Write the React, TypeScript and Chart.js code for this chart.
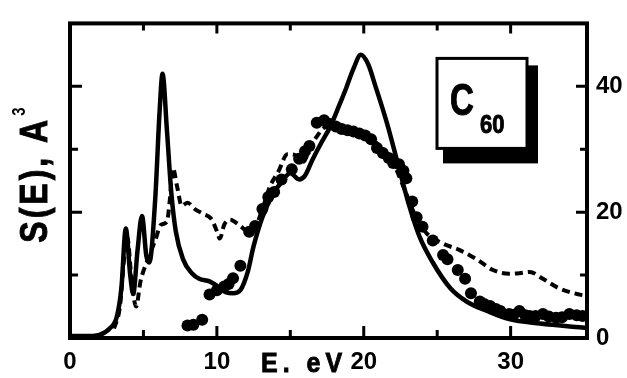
import React, { useEffect, useRef } from "react";
import { Chart, registerables } from "chart.js";

Chart.register(...registerables);

// ---- data (E in eV, S(E) in A^3) ----
const solidE = [0, 1, 2, 2.7, 3.2, 3.5, 3.8, 4.1, 4.3, 4.6, 4.9, 5.2, 5.4, 5.8, 6.1, 6.3, 6.6, 6.9, 7.2, 7.7, 8.3, 8.8, 9.5, 10.0, 10.6, 11.1, 11.6, 12.1, 12.5, 13.1, 13.8, 14.4, 15.0, 15.6, 16.0, 16.5, 17.1, 17.7, 18.3, 18.8, 19.3, 19.8, 20.3, 20.8, 21.6, 22.4, 23.1, 23.8, 24.7, 25.9, 27.0, 28.4, 29.9, 32.0, 34.7, 35.2];
const solidS = [0.3, 0.3, 0.5, 1.5, 3.5, 8, 17.4, 10, 7, 14, 19.4, 13, 12, 22, 36, 42, 33, 23, 17, 12.5, 10.3, 9.4, 9, 8.3, 7.3, 7.1, 7.6, 10.5, 14.6, 19.2, 22.8, 24.8, 26.2, 25.2, 25.8, 28.3, 31, 33.5, 36.8, 39.7, 42.8, 45, 43.5, 40, 34, 27, 21, 16.1, 12, 7.9, 5.8, 4.3, 3.0, 2.3, 1.7, 1.6];

const dashE = [3.0, 3.4, 3.7, 3.9, 4.2, 4.5, 4.8, 5.3, 5.8, 6.2, 6.6, 6.8, 7.0, 7.3, 7.6, 8.0, 8.5, 9.1, 9.6, 10.0, 10.2, 10.5, 10.9, 11.6, 12.2, 12.6, 13.1, 13.6, 14.2, 14.8, 15.4, 15.9, 16.3, 16.8, 17.4, 18.2, 19.2, 20.2, 21.1, 22.0, 22.8, 23.5, 24.3, 25.4, 26.5, 27.7, 28.8, 29.9, 30.6, 31.3, 32.2, 33.3, 34.7, 35.2];
const dashS = [1.5, 5, 13, 16, 9, 5, 9, 12.5, 15.5, 18, 18.5, 22, 27, 24, 21, 21.5, 20.5, 19.7, 19, 17, 15.8, 18, 18.8, 17.8, 16.8, 17.5, 20.5, 24, 26.5, 29.2, 29, 28, 30, 32, 33.5, 33, 32.5, 32, 30.5, 27.8, 23.5, 19.5, 16.6, 15, 14, 12.5, 10.8, 10.2, 10.3, 10.5, 9.4, 7.9, 6.9, 6.7];

const dotE = [8.0, 8.4, 9.0, 9.5, 10.0, 10.5, 10.8, 11.1, 11.6, 12.2, 12.6, 13.1, 13.5, 13.9, 14.4, 15.1, 15.6, 16.0, 16.3, 16.8, 17.3, 17.7, 18.1, 18.5, 18.9, 19.3, 19.7, 20.1, 20.5, 20.9, 21.3, 21.7, 22.0, 22.4, 22.7, 22.9, 23.3, 23.6, 24.0, 24.7, 25.4, 25.7, 26.4, 26.9, 27.3, 27.9, 28.2, 28.6, 29.0, 29.3, 29.9, 30.2, 30.6, 31.0, 31.3, 31.7, 32.2, 32.6, 33.1, 33.5, 34.0, 34.5, 34.9];
const dotS = [2.0, 2.1, 2.9, 6.9, 7.6, 8.2, 8.6, 9.5, 11.5, 16.9, 17.8, 20.5, 22.4, 23.2, 25.2, 26.8, 28.5, 29.7, 30.5, 34.2, 34.6, 34, 33.6, 33.2, 33, 32.8, 32.5, 32.2, 31.6, 30.2, 29.4, 28.6, 27.8, 27.6, 26.6, 25.4, 21.7, 19.2, 17.7, 15.5, 13.2, 12.5, 10.8, 9.4, 7.1, 5.8, 5.4, 5.1, 4.6, 4.3, 3.8, 3.7, 4.3, 3.6, 3.5, 3.5, 3.8, 3.4, 3.2, 3.3, 3.8, 3.6, 3.5];

const xTickValues = [0, 10, 20, 30];
const xMinorValues = [5, 15, 25];
const yTickValues = [0, 20, 40];
const yMinorValues = [10, 30];
const xMin = 0;
const xMax = 35.2;
const yMin = 0;
const yMax = 50;

const xTitle = "E. eV";
const yTitle = "S(E), A";
const yTitleSup = "3";
const boxMain = "C";
const boxSub = "60";

const toPts = (xs: number[], ys: number[]) => xs.map((x, i) => ({ x, y: ys[i] }));

const FONT = "Arial, 'Liberation Sans', sans-serif";

function drawStretched(
  ctx: CanvasRenderingContext2D,
  text: string,
  x: number,
  y: number,
  size: number,
  sy: number,
  spacing: number
) {
  ctx.save();
  ctx.translate(x, y);
  ctx.scale(1, sy);
  ctx.font = `bold ${size}px ${FONT}`;
  (ctx as any).letterSpacing = `${spacing}px`;
  ctx.textAlign = "left";
  ctx.textBaseline = "alphabetic";
  ctx.fillStyle = "#000";
  ctx.strokeStyle = "#000";
  ctx.lineWidth = 0.8;
  ctx.fillText(text, 0, 0);
  ctx.strokeText(text, 0, 0);
  (ctx as any).letterSpacing = "0px";
  ctx.restore();
}

const decorPlugin = {
  id: "decor",
  afterDraw(chart: any) {
    const ctx: CanvasRenderingContext2D = chart.ctx;
    const { left, right, top, bottom } = chart.chartArea;
    const xs = chart.scales.x;
    const ys = chart.scales.y;
    ctx.save();
    ctx.strokeStyle = "#000";
    ctx.lineWidth = 4;
    ctx.strokeRect(left, top, right - left, bottom - top);
    ctx.lineWidth = 3;
    ctx.beginPath();
    const xTick = (v: number, lb: number, lt: number) => {
      const px = xs.getPixelForValue(v);
      ctx.moveTo(px, bottom);
      ctx.lineTo(px, bottom - lb);
      ctx.moveTo(px, top);
      ctx.lineTo(px, top + lt);
    };
    xTickValues.forEach((v) => xTick(v, 12, 10));
    xMinorValues.forEach((v) => xTick(v, 8, 7));
    const yTick = (v: number, ll: number, lr: number) => {
      const py = ys.getPixelForValue(v);
      ctx.moveTo(left, py);
      ctx.lineTo(left + ll, py);
      ctx.moveTo(right, py);
      ctx.lineTo(right - lr, py);
    };
    yTickValues.forEach((v) => yTick(v, 12, 11));
    yMinorValues.forEach((v) => yTick(v, 8, 7));
    ctx.stroke();
    ctx.restore();

    // x title
    drawStretched(ctx, xTitle, left + 191, bottom + 34, 25, 1.12, 5);

    // y title (rotated)
    ctx.save();
    ctx.translate(47, (top + bottom) / 2 + 62);
    ctx.rotate(-Math.PI / 2);
    ctx.scale(1, 1.22);
    ctx.font = `bold 32px ${FONT}`;
    (ctx as any).letterSpacing = "3px";
    ctx.fillStyle = "#000";
    ctx.strokeStyle = "#000";
    ctx.lineWidth = 0.8;
    ctx.textBaseline = "alphabetic";
    ctx.fillText(yTitle, 0, 0);
    ctx.strokeText(yTitle, 0, 0);
    const w = ctx.measureText(yTitle).width;
    (ctx as any).letterSpacing = "0px";
    ctx.font = `bold 15px ${FONT}`;
    ctx.fillText(yTitleSup, w + 1, -18);
    ctx.restore();

    // C60 box with shadow
    const bx = right - 150;
    const by = top + 35;
    const bw = 90;
    const bh = 90;
    ctx.save();
    ctx.fillStyle = "#000";
    ctx.fillRect(bx + 6, by + 7, bw + 5, bh + 8);
    ctx.fillStyle = "#fff";
    ctx.fillRect(bx, by, bw, bh);
    ctx.strokeStyle = "#000";
    ctx.lineWidth = 3;
    ctx.strokeRect(bx, by, bw, bh);
    ctx.restore();
    drawStretched(ctx, boxMain, bx + 13, by + 57, 33, 1.35, 0);
    drawStretched(ctx, boxSub, bx + 43, by + 75, 22, 1.2, 0);
  },
};

export default function App() {
  const ref = useRef<HTMLCanvasElement | null>(null);

  useEffect(() => {
    const canvas = ref.current;
    if (!canvas) return;
    const tickFont = { family: FONT, size: 24, weight: "bold" as const };
    const chart = new Chart(canvas, {
      type: "line",
      data: {
        datasets: [
          {
            label: "solid",
            data: toPts(solidE, solidS),
            borderColor: "#000",
            borderWidth: 4.5,
            pointRadius: 0,
            cubicInterpolationMode: "monotone",
            fill: false,
            xAxisID: "x",
            yAxisID: "y",
          },
          {
            label: "dashed",
            data: toPts(dashE, dashS),
            borderColor: "#000",
            borderWidth: 4,
            borderDash: [8, 5],
            pointRadius: 0,
            cubicInterpolationMode: "monotone",
            fill: false,
            xAxisID: "x",
            yAxisID: "y",
          },
          {
            label: "dots",
            data: toPts(dotE, dotS),
            showLine: false,
            pointRadius: 6,
            pointBackgroundColor: "#000",
            pointBorderColor: "#000",
            pointBorderWidth: 0,
            xAxisID: "x",
            yAxisID: "y",
          },
        ],
      },
      options: {
        responsive: false,
        animation: false,
        devicePixelRatio: 1,
        layout: { padding: 0 },
        plugins: {
          legend: { display: false },
          tooltip: { enabled: false },
          title: { display: false },
        },
        scales: {
          x: {
            type: "linear",
            position: "bottom",
            min: xMin,
            max: xMax,
            afterBuildTicks: (s: any) => {
              s.ticks = xTickValues.map((v) => ({ value: v }));
            },
            afterFit: (s: any) => {
              s.height = 40;
            },
            grid: { drawOnChartArea: false, drawTicks: false },
            border: { display: false },
            ticks: { color: "#000", font: tickFont, padding: 10, maxRotation: 0 },
          },
          x2: {
            type: "linear",
            position: "top",
            min: xMin,
            max: xMax,
            afterFit: (s: any) => {
              s.height = 13;
            },
            grid: { drawOnChartArea: false, drawTicks: false },
            border: { display: false },
            ticks: { display: false },
          },
          y: {
            type: "linear",
            position: "right",
            min: yMin,
            max: yMax,
            afterBuildTicks: (s: any) => {
              s.ticks = yTickValues.map((v) => ({ value: v }));
            },
            afterFit: (s: any) => {
              s.width = 40;
            },
            grid: { drawOnChartArea: false, drawTicks: false },
            border: { display: false },
            ticks: { color: "#000", font: tickFont, padding: 9 },
          },
          yL: {
            type: "linear",
            position: "left",
            min: yMin,
            max: yMax,
            afterFit: (s: any) => {
              s.width = 70;
            },
            grid: { drawOnChartArea: false, drawTicks: false },
            border: { display: false },
            ticks: { display: false },
          },
        },
      } as any,
      plugins: [decorPlugin],
    });
    return () => chart.destroy();
  }, []);

  return (
    <div
      style={{
        position: "fixed",
        left: 0,
        top: 0,
        width: 627,
        height: 378,
        background: "#fff",
      }}
    >
      <canvas ref={ref} width={627} height={378} style={{ display: "block" }} />
    </div>
  );
}
